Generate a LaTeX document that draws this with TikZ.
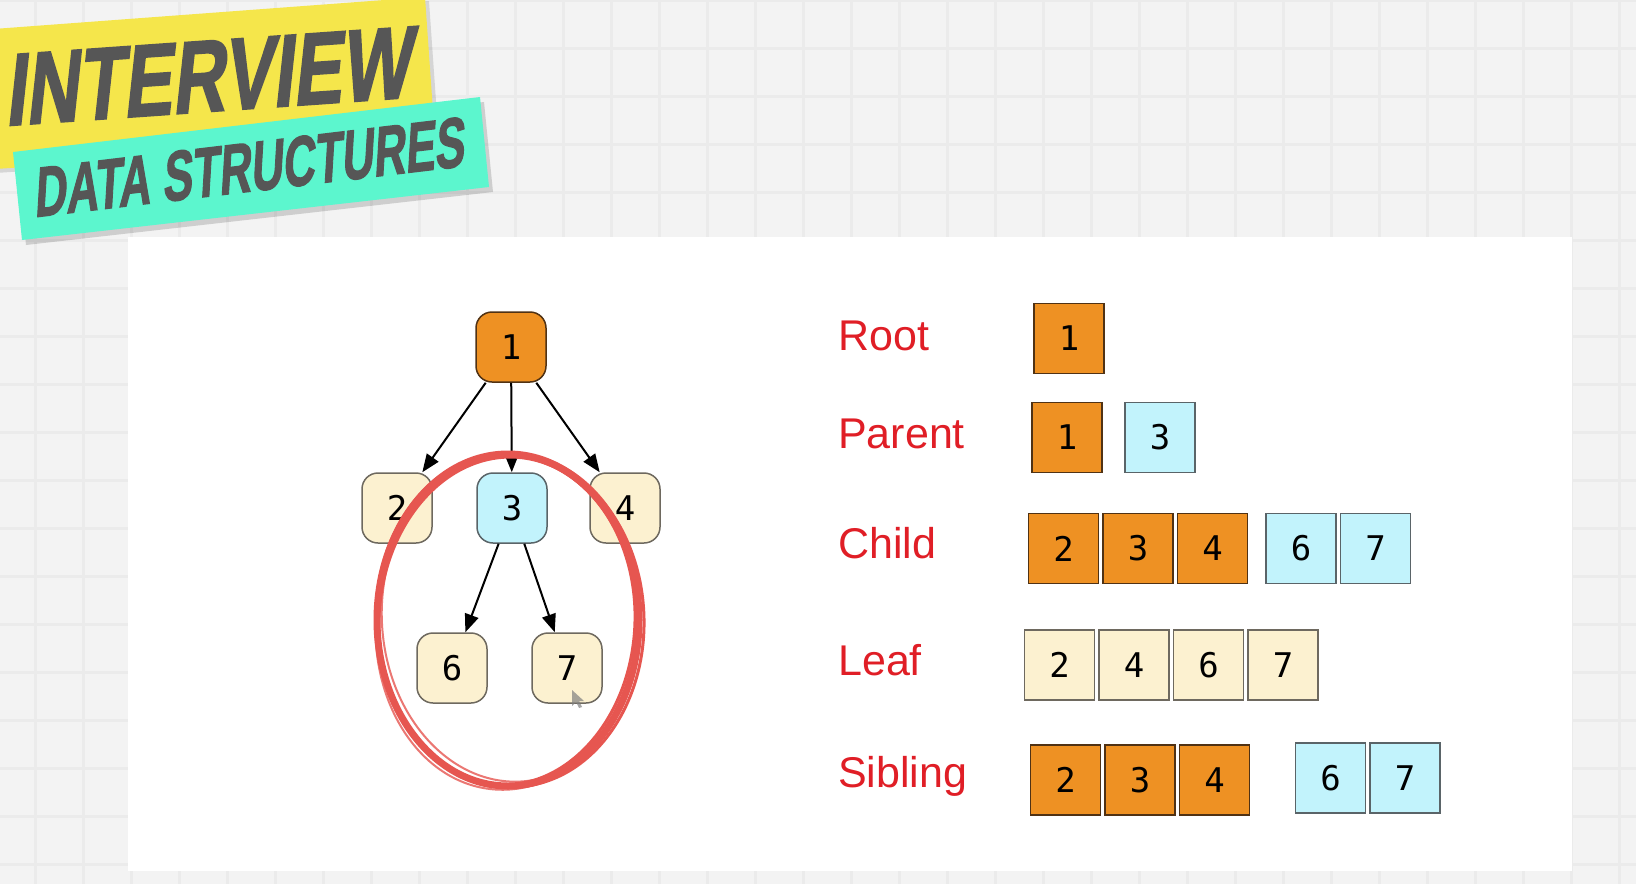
\documentclass[tikz,border=0pt]{standalone}
\usepackage{fontspec}
\setmainfont{Liberation Sans}
\newfontfamily\digitfont{DejaVu Sans Mono}
\newfontfamily\bannerfont{Liberation Sans}[FakeBold=2]
\usetikzlibrary{arrows.meta,positioning}
\definecolor{orangeCol}{RGB}{238,145,35}
\definecolor{orangeEdge}{RGB}{80,50,20}
\definecolor{blueCol}{RGB}{194,243,252}
\definecolor{blueEdge}{RGB}{90,100,104}
\definecolor{creamCol}{RGB}{252,241,208}
\definecolor{creamEdge}{RGB}{110,105,95}
\definecolor{labelCol}{RGB}{224,30,38}
\definecolor{brushCol}{RGB}{230,86,80}
\definecolor{bannerYel}{RGB}{245,230,75}
\definecolor{bannerTeal}{RGB}{92,246,206}
\definecolor{bannerText}{RGB}{86,86,86}
\definecolor{gridBg}{RGB}{243,243,243}
\definecolor{gridLine}{RGB}{235,235,235}

\begin{document}
\begin{tikzpicture}[x=1pt, y=-1pt,
  every node/.style={inner sep=0pt},
  treenode/.style n args={2}{rectangle, rounded corners=16pt, minimum size=70pt,
    line width=1.5pt, draw=#1, fill=#2, font=\digitfont\fontsize{34}{40}\selectfont},
  cell/.style n args={2}{rectangle, minimum size=70pt, line width=1.5pt,
    draw=#1, fill=#2, font=\digitfont\fontsize{34}{40}\selectfont},
  termlbl/.style={anchor=base west, text=labelCol, font=\fontsize{43}{50}\selectfont},
  link/.style={line width=2pt, -{Triangle[length=18pt, width=14pt]}},
  brush/.style={draw=brushCol, line cap=round},
  bannertext/.style n args={1}{text=bannerText, font=\bannerfont\bfseries\fontsize{#1}{#1}\selectfont, transform shape},
]
\useasboundingbox (0,0) rectangle (1636,884);
\clip (0,0) rectangle (1636,884);
% background grid
\fill[gridBg] (0,0) rectangle (1636,884);
\foreach \gx in {35,83,...,1636}
  \draw[gridLine, line width=3pt] (\gx,0) -- (\gx,884);
\foreach \gy in {0,48,...,884}
  \draw[gridLine, line width=3pt] (0,\gy) -- (1636,\gy);
\fill[white] (128,237) rectangle (1572,871);
% banners
\fill[black, opacity=0.12] (-20,34) -- (429,1) -- (439,144) -- (-20,174) -- cycle;
\fill[bannerYel] (-20,30) -- (425,-3) -- (435,140) -- (-20,170) -- cycle;
\node[bannertext={102}, rotate=4, xslant=0.18, xscale=0.72] (ttop) at (212,76) {INTERVIEW};
\fill[black, opacity=0.15] (17,157) -- (484,102) -- (493,192) -- (26,245) -- cycle;
\fill[bannerTeal] (13,152) -- (480,97) -- (489,187) -- (22,240) -- cycle;
\node[bannertext={70}, rotate=6.8, xslant=0.18, xscale=0.635] (tsub) at (251,167) {DATA STRUCTURES};
% tree
\node[treenode={orangeEdge}{orangeCol}] (t1) at (511,347) {1};
\node[treenode={creamEdge}{creamCol}] (t2) at (397,508) {2};
\node[treenode={blueEdge}{blueCol}] (t3) at (512,508) {3};
\node[treenode={creamEdge}{creamCol}] (t4) at (625,508) {4};
\node[treenode={creamEdge}{creamCol}] (t6) at (452,668) {6};
\node[treenode={creamEdge}{creamCol}] (t7) at (567,668) {7};
\draw[link] (t1) -- (t2);
\draw[link] (t1) -- (t3);
\draw[link] (t1) -- (t4);
\draw[link] (t3) -- (t6);
\draw[link] (t3) -- (t7);
% red circle round the subtree
\draw[brush, line width=7pt] (508,620) ellipse [x radius=131, y radius=166];
\draw[brush, line width=3pt, rotate around={2:(508,620)}] (510,620) ellipse [x radius=134, y radius=167];
\draw[brush, line width=3pt, rotate around={-3:(508,620)}] (507,621) ellipse [x radius=128, y radius=164];
\draw[brush, line width=2pt, opacity=0.8, rotate around={-5:(508,620)}] (508,622) ellipse [x radius=132, y radius=168];
\draw[brush, line width=2pt, opacity=0.8, rotate around={4:(508,620)}] (511,619) ellipse [x radius=129, y radius=163];
% cursor
\fill[gray, opacity=0.7] (572,690) -- (572,706) -- (576,702) -- (579,708) -- (582,707) -- (579,701) -- (584,701) -- cycle;
% terms
\node[termlbl] (lroot) at (838,350) {Root};
\node[termlbl] (lpar) at (838,448) {Parent};
\node[termlbl] (lchild) at (838,558) {Child};
\node[termlbl] (lleaf) at (838,675) {Leaf};
\node[termlbl] (lsib) at (838,787) {Sibling};
% Root
\node[cell={orangeEdge}{orangeCol}] (r1) at (1069,338.5) {1};
% Parent
\node[cell={orangeEdge}{orangeCol}] (p1) at (1067,437.5) {1};
\node[cell={blueEdge}{blueCol}] (p3) at (1160,437.5) {3};
% Child
\node[cell={orangeEdge}{orangeCol}] (c2) at (1063.5,548.5) {2};
\node[cell={orangeEdge}{orangeCol}, right=3pt of c2] (c3) {3};
\node[cell={orangeEdge}{orangeCol}, right=3pt of c3] (c4) {4};
\node[cell={blueEdge}{blueCol}] (c6) at (1301,548.5) {6};
\node[cell={blueEdge}{blueCol}, right=3pt of c6] (c7) {7};
% Leaf
\node[cell={creamEdge}{creamCol}] (f2) at (1059.5,665) {2};
\node[cell={creamEdge}{creamCol}, right=3pt of f2] (f4) {4};
\node[cell={creamEdge}{creamCol}, right=3pt of f4] (f6) {6};
\node[cell={creamEdge}{creamCol}, right=3pt of f6] (f7) {7};
% Sibling
\node[cell={orangeEdge}{orangeCol}] (s2) at (1065.5,780) {2};
\node[cell={orangeEdge}{orangeCol}, right=3pt of s2] (s3) {3};
\node[cell={orangeEdge}{orangeCol}, right=3pt of s3] (s4) {4};
\node[cell={blueEdge}{blueCol}] (s6) at (1330.5,778) {6};
\node[cell={blueEdge}{blueCol}, right=3pt of s6] (s7) {7};
\end{tikzpicture}
\end{document}
